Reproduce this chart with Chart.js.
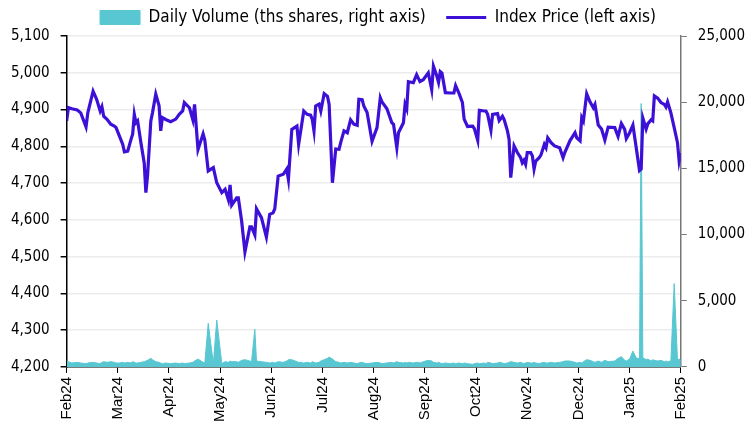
<!DOCTYPE html>
<html><head><meta charset="utf-8">
<script src="https://cdn.jsdelivr.net/npm/chart.js@4.4.1/dist/chart.umd.min.js"></script>
<style>html,body{margin:0;padding:0;background:#fff;overflow:hidden}#wrap{position:relative;width:750px;height:424px}</style>
</head><body><div id="wrap"><canvas id="c"></canvas></div>
<script>
const monthLabels = ['Feb24','Mar24','Apr24','May24','Jun24','Jul24','Aug24','Sep24','Oct24','Nov24','Dec24','Jan25','Feb25'];
const dates = [
'2024-02-01','2024-02-02','2024-02-04','2024-02-07','2024-02-09','2024-02-12','2024-02-13','2024-02-16','2024-02-18','2024-02-20','2024-02-21','2024-02-22','2024-02-24','2024-02-26','2024-02-28','2024-02-29',
'2024-03-02','2024-03-04','2024-03-05','2024-03-07','2024-03-09','2024-03-10','2024-03-11','2024-03-12','2024-03-13','2024-03-15','2024-03-17','2024-03-18','2024-03-19','2024-03-21','2024-03-22','2024-03-24','2024-03-26','2024-03-27','2024-03-28','2024-03-30',
'2024-04-02','2024-04-05','2024-04-07','2024-04-09','2024-04-10','2024-04-13','2024-04-15','2024-04-16','2024-04-18','2024-04-21','2024-04-22','2024-04-24','2024-04-27','2024-04-29',
'2024-05-02','2024-05-04','2024-05-06','2024-05-07','2024-05-08','2024-05-11','2024-05-12','2024-05-14','2024-05-16','2024-05-19','2024-05-20','2024-05-22','2024-05-23','2024-05-26','2024-05-29','2024-05-31',
'2024-06-02','2024-06-03','2024-06-05','2024-06-08','2024-06-10','2024-06-11','2024-06-13','2024-06-16','2024-06-17','2024-06-20','2024-06-22','2024-06-24','2024-06-25','2024-06-26','2024-06-27','2024-06-29','2024-06-30',
'2024-07-02','2024-07-04','2024-07-05','2024-07-07','2024-07-09','2024-07-11','2024-07-12','2024-07-14','2024-07-16','2024-07-18','2024-07-20','2024-07-22','2024-07-23','2024-07-25','2024-07-26','2024-07-28','2024-07-31',
'2024-08-03','2024-08-05','2024-08-06','2024-08-09','2024-08-12','2024-08-13','2024-08-15','2024-08-16','2024-08-19','2024-08-20','2024-08-21','2024-08-22','2024-08-25','2024-08-27','2024-08-29','2024-08-31',
'2024-09-03','2024-09-05','2024-09-06','2024-09-08','2024-09-09','2024-09-10','2024-09-11','2024-09-13','2024-09-16','2024-09-18','2024-09-19','2024-09-21','2024-09-23','2024-09-24','2024-09-26','2024-09-29','2024-09-30',
'2024-10-02','2024-10-03','2024-10-06','2024-10-07','2024-10-08','2024-10-10','2024-10-11','2024-10-14','2024-10-15','2024-10-17','2024-10-18','2024-10-20','2024-10-21','2024-10-22','2024-10-24','2024-10-26','2024-10-28','2024-10-29','2024-10-30','2024-10-31',
'2024-11-01','2024-11-03','2024-11-04','2024-11-05','2024-11-06','2024-11-08','2024-11-09','2024-11-11','2024-11-12','2024-11-13','2024-11-15','2024-11-17','2024-11-20','2024-11-22','2024-11-23','2024-11-26','2024-11-29','2024-11-30',
'2024-12-02','2024-12-03','2024-12-04','2024-12-06','2024-12-08','2024-12-10','2024-12-11','2024-12-13','2024-12-15','2024-12-17','2024-12-19','2024-12-23','2024-12-25','2024-12-27','2024-12-29','2024-12-30',
'2025-01-01','2025-01-03','2025-01-05','2025-01-07','2025-01-08','2025-01-09','2025-01-11','2025-01-12','2025-01-14','2025-01-15','2025-01-16','2025-01-18','2025-01-20','2025-01-22','2025-01-23','2025-01-24','2025-01-26','2025-01-28','2025-01-30','2025-01-31',
'2025-02-01'];
const indexPrice = [
4869,4905,4902,4899,4891,4853,4891,4950,4928,4896,4908,4882,4873,4860,4855,4851,
4828,4805,4785,4787,4819,4833,4887,4864,4869,4810,4755,4674,4719,4869,4891,4942,4910,4842,4878,4873,
4867,4874,4887,4896,4919,4905,4872,4914,4791,4834,4817,4733,4742,4701,
4674,4683,4654,4695,4640,4660,4660,4597,4513,4581,4581,4559,4630,4606,4553,4615,
4619,4630,4719,4724,4738,4710,4846,4855,4805,4896,4887,4885,4873,4842,4910,4915,4896,
4943,4936,4914,4701,4793,4792,4810,4842,4837,4872,4860,4857,4928,4927,4910,4892,4814,
4851,4932,4921,4902,4864,4860,4796,4837,4864,4914,4902,4976,4973,4995,4976,4981,
5000,4954,5018,4991,4974,5003,4999,4946,4945,4945,4965,4944,4919,4874,4854,4855,4848,
4816,4898,4896,4896,4887,4844,4887,4889,4870,4882,4873,4842,4819,4715,4801,4783,4769,4755,4762,4751,
4783,4783,4774,4738,4760,4769,4776,4805,4796,4823,4810,4801,4796,4769,4783,4815,4837,4823,
4815,4878,4869,4943,4921,4905,4914,4858,4847,4817,4852,4851,4827,4862,4846,4821,
4837,4858,4796,4734,4738,4877,4847,4861,4872,4869,4937,4931,4919,4914,4907,4921,4891,4851,4810,4760,
4782];
const dailyVolume = [
450,400,300,350,300,250,300,350,300,250,350,400,350,400,350,300,
300,350,300,350,300,400,350,300,300,350,400,450,500,650,550,400,350,300,250,300,
250,300,250,300,250,300,350,450,600,350,300,3300,250,3550,
250,400,350,450,400,400,350,500,550,450,400,2850,450,400,350,300,
350,300,400,350,450,550,550,400,350,300,350,300,400,350,300,350,450,
550,650,750,600,400,350,300,350,300,350,300,250,300,350,300,250,300,
350,300,250,300,350,300,400,350,300,350,300,350,300,350,300,400,
500,450,350,300,350,300,250,300,250,300,250,300,250,300,250,200,250,
300,250,300,250,350,300,250,300,350,300,250,300,350,400,350,300,350,300,250,300,
350,300,300,350,300,250,300,350,300,300,350,300,350,400,450,450,350,300,
350,300,400,550,500,400,350,450,350,500,400,450,650,780,500,450,
600,1200,700,600,19900,700,550,600,450,550,500,450,500,400,450,400,450,6300,500,600,
500];

function monthPos(s){
  const [y,m,d] = s.split('-').map(Number);
  const dim = new Date(y, m, 0).getDate();
  return (y-2024)*12 + (m-2) + (d-1)/dim;
}
const xs = dates.map(monthPos);
const FONT = "'DejaVu Sans Condensed','DejaVu Sans',sans-serif";
const fmt = v => Number(v).toLocaleString('en-US');

new Chart(document.getElementById('c'), {
  type: 'line',
  data: {
    datasets: [
      {
        label: 'Daily Volume (ths shares, right axis)   ',
        data: xs.map((x,i)=>({x, y: dailyVolume[i]})),
        yAxisID: 'yR',
        borderColor: '#58c7d2',
        backgroundColor: '#58c7d2',
        borderWidth: 1,
        fill: 'origin',
        pointRadius: 0,
        pointStyle: 'rect',
        tension: 0,
        order: 2
      },
      {
        label: 'Index Price (left axis)',
        data: xs.map((x,i)=>({x, y: indexPrice[i]})),
        yAxisID: 'yL',
        borderColor: '#3d10d8',
        backgroundColor: '#3d10d8',
        borderWidth: 3.2,
        pointRadius: 0,
        pointStyle: 'line',
        tension: 0,
        fill: false,
        order: 1
      }
    ]
  },
  options: {
    responsive: true,
    maintainAspectRatio: false,
    animation: false,
    layout: { padding: { left: 0, right: -6, top: 3, bottom: -2 } },
    plugins: {
      tooltip: { enabled: false },
      legend: {
        position: 'top',
        align: 'center',
        labels: {
          usePointStyle: true,
          pointStyleWidth: 40,
          boxHeight: 14,
          padding: 6,
          color: '#000',
          font: { family: FONT, size: 17 },
          sort: (a,b) => a.datasetIndex - b.datasetIndex
        }
      }
    },
    scales: {
      x: {
        type: 'linear',
        min: 0, max: 12,
        afterBuildTicks: axis => { axis.ticks = monthLabels.map((_,i)=>({value:i})); },
        ticks: {
          autoSkip: false,
          minRotation: 90, maxRotation: 90,
          padding: 4,
          color: '#000',
          font: { family: "'Liberation Sans',Arial,sans-serif", size: 15 },
          callback: v => monthLabels[v]
        },
        grid: { drawOnChartArea: false, tickLength: 6, tickColor: '#000', color: '#000' },
        border: { color: '#000', width: 1.5 }
      },
      yL: {
        type: 'linear', position: 'left',
        min: 4200, max: 5100,
        ticks: { stepSize: 100, padding: 11, color: '#000', font: { family: FONT, size: 15 }, callback: fmt },
        grid: { color: '#ececec', lineWidth: 1.5, tickLength: 6, tickColor: '#000' },
        border: { color: '#000', width: 1.5 }
      },
      yR: {
        type: 'linear', position: 'right',
        min: 0, max: 25000,
        ticks: { stepSize: 5000, padding: 11, color: '#000', font: { family: FONT, size: 15 }, callback: fmt },
        grid: { drawOnChartArea: false, tickLength: 6, tickColor: '#777' },
        border: { color: '#777', width: 1.5 }
      }
    }
  }
});
</script></body></html>
